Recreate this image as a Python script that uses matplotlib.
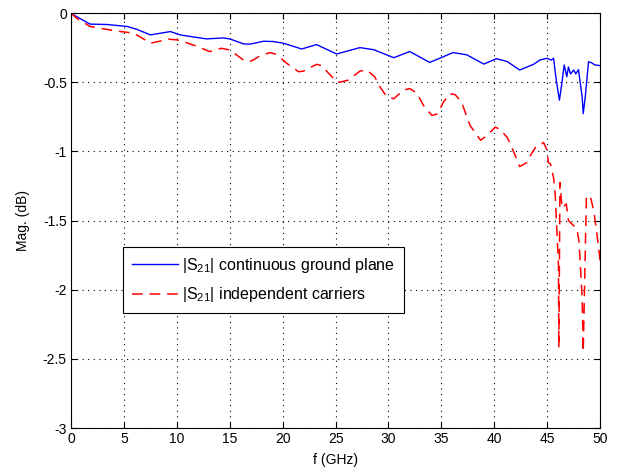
import matplotlib
matplotlib.use("Agg")
import matplotlib.pyplot as plt

plt.rcParams['font.family'] = ['Liberation Sans', 'DejaVu Sans']
plt.rcParams['mathtext.default'] = 'regular'

# Blue: continuous ground plane
f_blue = [0, 0.2, 1.8, 3.4, 5.3, 6.2, 7.5, 9.4, 10.3, 12.8, 14.4, 15.0, 16.3, 16.9, 18.2,
          19.1, 20.07, 21.8, 23.2, 25.1, 27.3, 28.6, 30.5, 32.0, 33.9, 36.1, 37.4, 39.0,
          40.2, 41.2, 42.4, 43.7, 44.3, 44.96, 45.4, 45.6, 45.85, 46.15, 46.4, 46.6, 46.85,
          47.0, 47.2, 47.5, 47.7, 47.95, 48.3, 48.4, 48.6, 48.9, 49.2, 49.5, 50.0]
s_blue = [0, -0.012, -0.08, -0.083, -0.097, -0.117, -0.158, -0.134, -0.158, -0.187, -0.18,
          -0.187, -0.223, -0.225, -0.204, -0.206, -0.218, -0.26, -0.228, -0.296, -0.25,
          -0.265, -0.323, -0.278, -0.357, -0.286, -0.302, -0.369, -0.33, -0.35, -0.412,
          -0.371, -0.34, -0.327, -0.34, -0.327, -0.485, -0.63, -0.497, -0.376, -0.46,
          -0.39, -0.44, -0.412, -0.44, -0.41, -0.607, -0.727, -0.6, -0.352, -0.36, -0.375,
          -0.38]

# Red: independent carriers
f_red = [0, 0.5, 1.8, 3.05, 4.3, 5.9, 6.7, 7.5, 8.25, 9.2, 10.0, 10.9, 12.0, 13.1, 14.2,
         15.0, 16.3, 16.9, 17.2, 17.9, 18.8, 19.4, 20.4, 21.5, 21.95, 23.2, 23.7, 24.3,
         25.1, 25.4, 26.2, 27.3, 27.95, 28.7, 29.2, 29.8, 30.5, 31.4, 32.0, 32.7, 33.3,
         34.1, 34.6, 35.2, 35.8, 36.3, 36.9, 37.7, 38.7, 39.3, 40.1, 40.5, 41.2, 41.65,
         42.4, 43.1, 43.5, 43.9, 44.3, 44.65, 45.0, 45.1, 45.3, 45.6, 45.75, 46.06, 46.1,
         46.2, 46.4, 46.8, 47.0, 47.8, 48.0, 48.3, 48.4, 48.7, 49.05, 49.4, 49.7, 50.0]
s_red = [0, -0.036, -0.097, -0.114, -0.13, -0.145, -0.18, -0.218, -0.206, -0.189, -0.194,
         -0.214, -0.243, -0.279, -0.255, -0.267, -0.34, -0.35, -0.34, -0.308, -0.286,
         -0.298, -0.364, -0.424, -0.42, -0.371, -0.38, -0.432, -0.497, -0.5, -0.485,
         -0.42, -0.412, -0.461, -0.534, -0.601, -0.62, -0.558, -0.546, -0.58, -0.667,
         -0.74, -0.73, -0.643, -0.582, -0.59, -0.643, -0.812, -0.92, -0.885, -0.825,
         -0.84, -0.897, -0.97, -1.11, -1.08, -1.018, -0.97, -0.958, -0.935, -0.994, -1.08,
         -1.09, -1.19, -1.31, -1.82, -2.42, -1.225, -1.41, -1.38, -1.50, -1.56, -1.65,
         -2.06, -2.45, -1.33, -1.32, -1.43, -1.6, -1.79]

xticks = [0, 5, 10, 15, 20, 25, 30, 35, 40, 45, 50]
yticks = [0, -0.5, -1, -1.5, -2, -2.5, -3]
ytick_labels = ['0', '-0.5', '-1', '-1.5', '-2', '-2.5', '-3']

fig = plt.figure(figsize=(6.2, 4.74), dpi=100)
ax = fig.add_axes([0.1145, 0.097, 0.8535, 0.8755])

ax.plot(f_blue, s_blue, color='#0000ff', lw=1.0,
        label=r'|S$_{21}$| continuous ground plane')
ax.plot(f_red, s_red, color='#ff0000', lw=1.1, linestyle=(0, (7, 4.5)),
        label=r'|S$_{21}$| independent carriers')

ax.set_xlim(0, 50)
ax.set_ylim(-3, 0)
ax.set_xticks(xticks)
ax.set_yticks(yticks)
ax.set_yticklabels(ytick_labels)
ax.tick_params(direction='in', length=4, labelsize=10, top=True, right=True, pad=3)
ax.grid(True, color='black', linestyle=(0, (1, 4)), linewidth=0.8)
for sp in ax.spines.values():
    sp.set_linewidth(0.8)

ax.set_xlabel('f (GHz)', fontsize=10, labelpad=5)
ax.set_ylabel('Mag. (dB)', fontsize=10, labelpad=9)

leg = ax.legend(loc='upper left', bbox_to_anchor=(0.098, 0.436), fontsize=11.5,
                fancybox=False, edgecolor='black', framealpha=1, borderaxespad=0,
                handlelength=2.9, borderpad=0.55, labelspacing=0.65, handletextpad=0.25)
leg.get_frame().set_linewidth(0.8)

fig.savefig('out.png', dpi=100)
